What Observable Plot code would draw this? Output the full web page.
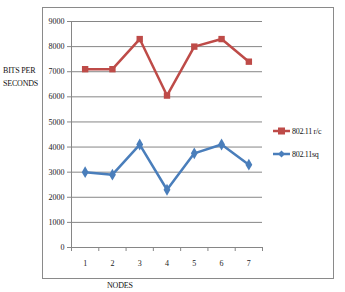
<!DOCTYPE html>
<html>
<head>
<meta charset="utf-8">
<script src="https://cdn.jsdelivr.net/npm/d3@7"></script>
<script src="https://cdn.jsdelivr.net/npm/@observablehq/plot@0.6"></script>
<style>
  body { margin: 0; background: #fff; }
  #wrap { position: relative; width: 345px; height: 292px; font-family: "Liberation Serif", "Times New Roman", serif; color: #111; }
  #box { position: absolute; left: 42px; top: 7px; width: 290px; height: 270px; border: 1.5px solid #8a8a8a; }
  .lbl { position: absolute; font-size: 8px; line-height: 13px; letter-spacing: -0.2px; }
  .leg { position: absolute; font-size: 8px; display: flex; align-items: center; letter-spacing: -0.3px; }
  .leg svg { margin-right: 1px; }
</style>
</head>
<body>
<div id="wrap">
  <div id="box"></div>
</div>
<script>
const nodes = [1, 2, 3, 4, 5, 6, 7];
const rcValues = [7100, 7100, 8300, 6050, 8000, 8300, 7400];
const sqValues = [3000, 2900, 4100, 2300, 3750, 4100, 3300];
const yTicks = [0, 1000, 2000, 3000, 4000, 5000, 6000, 7000, 8000, 9000];
const seriesNames = ["802.11 r/c", "802.11sq"];
const colors = ["#BE4B48", "#4A7EBB"];
const xBounds = [0.5, 1.5, 2.5, 3.5, 4.5, 5.5, 6.5, 7.5];

const rc = nodes.map((n, i) => ({node: n, value: rcValues[i]}));
const sq = nodes.map((n, i) => ({node: n, value: sqValues[i]}));

const chart = Plot.plot({
  width: 345,
  height: 292,
  marginLeft: 71,
  marginRight: 83,
  marginTop: 21,
  marginBottom: 45,
  x: {domain: [0.5, 7.5]},
  y: {domain: [0, 9000]},
  style: {fontFamily: "'Liberation Serif', serif", fontSize: "8px", background: "transparent", color: "#222"},
  marks: [
    Plot.ruleY(yTicks, {stroke: "#868686", strokeWidth: 1, strokeOpacity: 1}),
    Plot.ruleX([0.5], {stroke: "#868686", strokeWidth: 1, strokeOpacity: 1}),
    Plot.axisY({ticks: yTicks, tickSize: 4, tickPadding: 3, tickFormat: d => String(d), stroke: "#868686", fill: "#222", label: null, style: {letterSpacing: "-0.8px"}}),
    Plot.axisX({ticks: xBounds, tickSize: 4, tickFormat: () => "", stroke: "#868686", label: null}),
    Plot.axisX({ticks: nodes, tickSize: 0, tickPadding: 13, tickFormat: d => String(d), fill: "#222", label: null}),
    Plot.line(rc, {x: "node", y: "value", stroke: colors[0], strokeWidth: 2.5}),
    Plot.dot(rc, {x: "node", y: "value", symbol: "square", r: 3.6, fill: colors[0], stroke: "none"}),
    Plot.line(sq, {x: "node", y: "value", stroke: colors[1], strokeWidth: 2.5}),
    Plot.dot(sq, {x: "node", y: "value", symbol: "diamond", r: 3.6, fill: colors[1], stroke: "none"})
  ]
});
chart.style.position = "absolute";
chart.style.left = "0";
chart.style.top = "0";
const wrap = document.getElementById("wrap");
wrap.appendChild(chart);

const ylab = document.createElement("div");
ylab.className = "lbl";
ylab.style.left = "3px";
ylab.style.top = "64px";
ylab.innerHTML = "BITS PER<br>SECONDS";
wrap.appendChild(ylab);

const xlab = document.createElement("div");
xlab.className = "lbl";
xlab.style.left = "107px";
xlab.style.top = "279px";
xlab.textContent = "NODES";
wrap.appendChild(xlab);

const legTops = [124, 147];
seriesNames.forEach((name, i) => {
  const d = document.createElement("div");
  d.className = "leg";
  d.style.left = "273px";
  d.style.top = legTops[i] + "px";
  const marker = i === 0
    ? `<rect x="5" y="3.5" width="7" height="7" fill="${colors[i]}"/>`
    : `<path d="M8.5,3.5 L12,7 L8.5,10.5 L5,7 Z" fill="${colors[i]}"/>`;
  d.innerHTML = `<svg width="18" height="14"><line x1="0" y1="7" x2="17" y2="7" stroke="${colors[i]}" stroke-width="2.5"/>${marker}</svg><span>${name}</span>`;
  wrap.appendChild(d);
});
</script>
</body>
</html>
